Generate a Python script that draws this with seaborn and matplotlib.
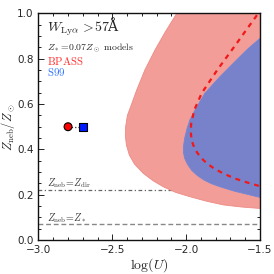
import matplotlib
matplotlib.use("Agg")
import matplotlib.pyplot as plt
import seaborn as sns
import pandas as pd
from matplotlib.ticker import MultipleLocator

# ---- data ----
# BPASS confidence region (logU, Z_neb/Z_sun) boundary
bpass_logu = [-2.03, -2.064, -2.14, -2.211, -2.28, -2.335, -2.375, -2.398, -2.41, -2.412, -2.405,
              -2.385, -2.35, -2.29, -2.225, -2.155, -2.07, -1.974, -1.86, -1.749, -1.63,
              -1.514, -1.45, -1.45]
bpass_z = [1.05, 1.0, 0.92, 0.839, 0.75, 0.662, 0.59, 0.55, 0.50, 0.46, 0.42,
           0.375, 0.335, 0.294, 0.262, 0.235, 0.21, 0.191, 0.171, 0.155, 0.146,
           0.14, 0.137, 1.05]
# S99 confidence region boundary
s99_logu = [-1.45, -1.5, -1.58, -1.658, -1.771, -1.873, -1.94, -1.975, -1.995, -2.01,
            -2.018, -2.018, -2.01, -1.99, -1.962, -1.925, -1.88, -1.83, -1.771, -1.67,
            -1.568, -1.5, -1.45]
s99_z = [0.92, 0.89, 0.845, 0.795, 0.721, 0.648, 0.574, 0.53, 0.49, 0.45,
         0.415, 0.385, 0.36, 0.333, 0.307, 0.285, 0.265, 0.249, 0.235, 0.215,
         0.199, 0.188, 0.185]
# BPASS best-fit (dashed) contour
dash_logu = [-1.47, -1.52, -1.59, -1.658, -1.79, -1.895, -1.945, -1.967, -1.968, -1.963,
             -1.947, -1.925, -1.895, -1.861, -1.81, -1.749, -1.68, -1.613, -1.514, -1.49]
dash_z = [1.02, 0.993, 0.93, 0.868, 0.75, 0.648, 0.574, 0.51, 0.47, 0.44,
          0.41, 0.385, 0.36, 0.339, 0.315, 0.294, 0.274, 0.259, 0.24, 0.236]
# markers
pt_logu = [-2.8, -2.7]
pt_z = [0.50, 0.50]
pt_model = ["BPASS", "S99"]
# reference lines
z_dir = 0.22
z_star = 0.07

sns.set_style("ticks")
plt.rcParams["mathtext.fontset"] = "cm"
plt.rcParams["font.family"] = ["DejaVu Sans"]

fig = plt.figure(figsize=(2.74, 2.74), dpi=100)
ax = fig.add_axes([0.1405, 0.124, 0.8085, 0.827])

ax.fill(bpass_logu, bpass_z, facecolor="#f29d97", edgecolor="#ee8a85", lw=0.6, zorder=1)
ax.fill(s99_logu, s99_z, facecolor="#7882cb", edgecolor="#6f86d6", lw=0.6, zorder=2)

dash_df = pd.DataFrame({"logU": dash_logu, "Z": dash_z})
sns.lineplot(data=dash_df, x="logU", y="Z", sort=False, estimator=None, ax=ax,
             color="#f01818", lw=1.6, zorder=3)
ax.lines[-1].set_dashes([2.2, 2.2])

ax.axhline(z_dir, color="#666666", lw=0.9, ls=(0, (3, 2, 1, 2)), zorder=0)
ax.axhline(z_star, color="#888888", lw=1.0, ls=(0, (3.5, 2)), zorder=0)

ax.plot(pt_logu, pt_z, color="#333333", lw=0.9, ls=":", zorder=4)
pts = pd.DataFrame({"logU": pt_logu, "Z": pt_z, "model": pt_model})
sns.scatterplot(data=pts, x="logU", y="Z", hue="model", style="model",
                palette={"BPASS": "#ff0000", "S99": "#0019ff"},
                markers={"BPASS": "o", "S99": "s"}, s=32, edgecolor="black",
                linewidth=0.8, legend=False, ax=ax, zorder=5)

ax.set_xlim(-3.0, -1.5)
ax.set_ylim(0.0, 1.0)
ax.set_xticks([-3.0, -2.5, -2.0, -1.5])
ax.set_yticks([0.0, 0.2, 0.4, 0.6, 0.8, 1.0])
ax.xaxis.set_minor_locator(MultipleLocator(0.1))
ax.yaxis.set_minor_locator(MultipleLocator(0.05))
ax.tick_params(which="both", direction="in", top=True, right=True, labelsize=7.5,
               color="#222222", width=0.7)
ax.tick_params(which="major", length=4)
ax.tick_params(which="minor", length=2)
for sp in ax.spines.values():
    sp.set_linewidth(1.0)
    sp.set_color("#111111")

ax.set_xlabel(r"$\log(U)$", fontsize=10, labelpad=1)
ax.set_ylabel(r"$Z_{\rm neb}/Z_\odot$", fontsize=9, labelpad=0)

ax.text(-2.94, 0.94, r"$W_{\rm Ly\alpha}\,>\!57$Å", fontsize=10, va="center", ha="left",
        family=["DejaVu Serif"])
ax.text(-2.94, 0.845, r"$Z_*\!=\!0.07Z_\odot\ {\rm models}$", fontsize=7, va="center", ha="left")
ax.text(-2.94, 0.79, r"${\rm BPASS}$", fontsize=7.8, va="center", ha="left", color="#ff3030")
ax.text(-2.94, 0.741, r"${\rm S99}$", fontsize=7.8, va="center", ha="left", color="#2a6fff")
ax.text(-2.94, 0.249, r"$Z_{\rm neb}\!=\!Z_{\rm dir}$", fontsize=7.2, va="center", ha="left", color="#333333")
ax.text(-2.94, 0.098, r"$Z_{\rm neb}\!=\!Z_*$", fontsize=7.2, va="center", ha="left", color="#333333")

fig.savefig("out.png", dpi=100)
